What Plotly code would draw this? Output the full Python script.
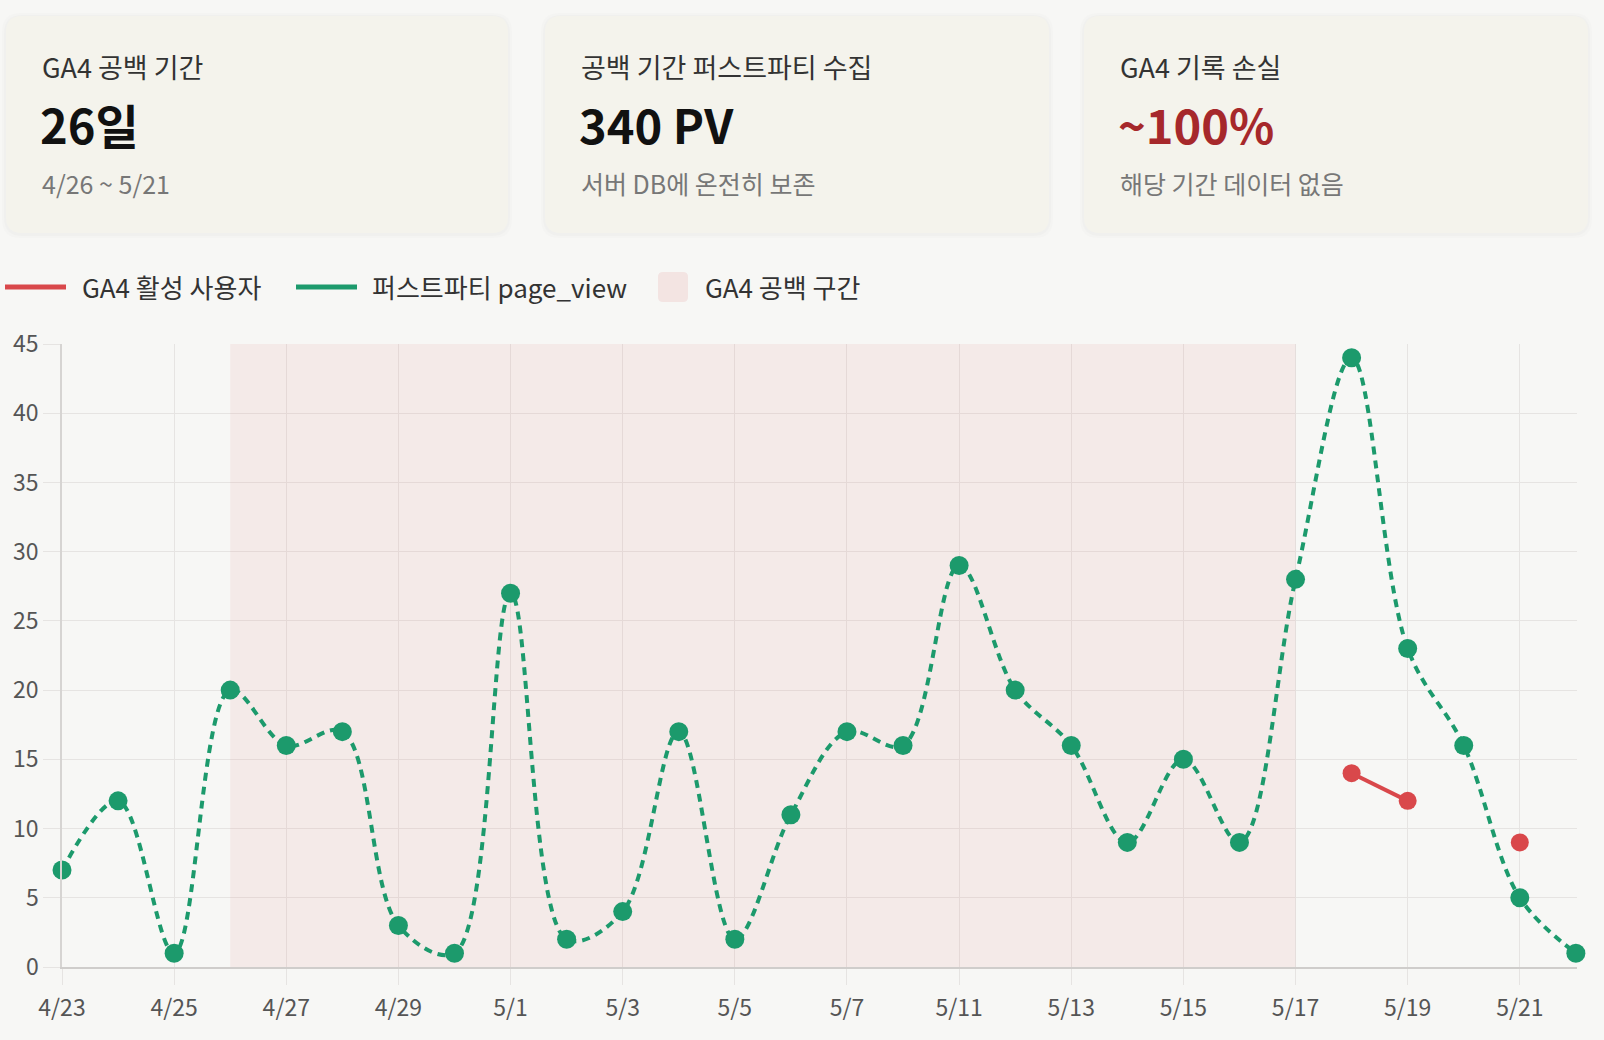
import plotly.graph_objects as go

# ---------------- data ----------------
dates = ["4/23", "4/24", "4/25", "4/26", "4/27", "4/28", "4/29", "4/30",
         "5/1", "5/2", "5/3", "5/4", "5/5", "5/6", "5/7", "5/8",
         "5/11", "5/12", "5/13", "5/14", "5/15", "5/16", "5/17", "5/18",
         "5/19", "5/20", "5/21", "5/22"]
first_party_pv = [7, 12, 1, 20, 16, 17, 3, 1,
                  27, 2, 4, 17, 2, 11, 17, 16,
                  29, 20, 16, 9, 15, 9, 28, 44,
                  23, 16, 5, 1]
ga4_active = [None] * 23 + [14, 12, None, 9, None]
gap_range = ["4/26", "5/17"]
gap_top = [45, 45]

cards = [
    ("GA4 공백 기간", "26일", "4/26 ~ 5/21", "#111111"),
    ("공백 기간 퍼스트파티 수집", "340 PV", "서버 DB에 온전히 보존", "#111111"),
    ("GA4 기록 손실", "~100%", "해당 기간 데이터 없음", "#a6282b"),
]
legend_labels = ["GA4 활성 사용자", "퍼스트파티 page_view", "GA4 공백 구간"]
y_ticks = [0, 5, 10, 15, 20, 25, 30, 35, 40, 45]

# ---------------- layout geometry ----------------
W, H = 1604, 1040
L, R, T, B = 62, 27, 344, 73
PW, PH = W - L - R, H - T - B


def px(x):
    return (x - L) / PW


def py(y):
    return (H - B - y) / PH


def rounded(x0, x1, y0, y1, r):
    return (f"M {px(x0 + r)} {py(y0)} L {px(x1 - r)} {py(y0)} "
            f"Q {px(x1)} {py(y0)} {px(x1)} {py(y0 + r)} L {px(x1)} {py(y1 - r)} "
            f"Q {px(x1)} {py(y1)} {px(x1 - r)} {py(y1)} L {px(x0 + r)} {py(y1)} "
            f"Q {px(x0)} {py(y1)} {px(x0)} {py(y1 - r)} L {px(x0)} {py(y0 + r)} "
            f"Q {px(x0)} {py(y0)} {px(x0 + r)} {py(y0)} Z")


FONT = "Noto Sans CJK KR, Noto Sans, sans-serif"
RED = "#d9484b"
GREEN = "#1c9a6c"
PINK = "rgba(214, 90, 90, 0.08)"

fig = go.Figure()

# GA4 gap shading
fig.add_trace(go.Scatter(
    x=gap_range, y=gap_top, mode="none", fill="tozeroy",
    fillcolor=PINK, name=legend_labels[2], hoverinfo="skip", showlegend=False))

# first-party page_view
fig.add_trace(go.Scatter(
    x=dates, y=first_party_pv, mode="lines+markers",
    line=dict(color=GREEN, width=4, dash="8px,6px", shape="spline", smoothing=1.0),
    marker=dict(color=GREEN, size=19),
    cliponaxis=False, showlegend=False, name=legend_labels[1]))

# GA4 active users
fig.add_trace(go.Scatter(
    x=dates, y=ga4_active, mode="lines+markers",
    line=dict(color=RED, width=4),
    marker=dict(color=RED, size=18),
    cliponaxis=False, showlegend=False, name=legend_labels[0]))

# ---------------- cards ----------------
card_x = [(6, 508), (545, 1049), (1084, 1588)]
card_y = (16, 233)
shapes = []
annotations = []
for (x0, x1), (title, value, sub, vcol) in zip(card_x, cards):
    y0, y1 = card_y
    for grow, col in [(4, "rgba(0,0,0,0.010)"), (2, "rgba(0,0,0,0.014)")]:
        shapes.append(dict(type="path", xref="paper", yref="paper",
                           path=rounded(x0 - grow, x1 + grow, y0 - grow + 1, y1 + grow + 1, 18),
                           fillcolor=col, line=dict(width=0), layer="below"))
    shapes.append(dict(type="path", xref="paper", yref="paper",
                       path=rounded(x0, x1, y0, y1, 16),
                       fillcolor="#f4f3ec", line=dict(width=0), layer="below"))
    tx = x0 + 34
    annotations.append(dict(xref="paper", yref="paper", x=px(tx), y=py(66),
                            xanchor="left", yanchor="middle", showarrow=False,
                            text=title, font=dict(family=FONT, size=27, color="#333333")))
    annotations.append(dict(xref="paper", yref="paper", x=px(tx - 2), y=py(124),
                            xanchor="left", yanchor="middle", showarrow=False,
                            text=f"<b>{value}</b>", font=dict(family=FONT, size=47, color=vcol)))
    annotations.append(dict(xref="paper", yref="paper", x=px(tx), y=py(183),
                            xanchor="left", yanchor="middle", showarrow=False,
                            text=sub, font=dict(family=FONT, size=25, color="#777777")))

# ---------------- legend (drawn) ----------------
LY = 287
leg_sym = [("line", 5, 66, RED), ("line", 296, 357, GREEN), ("box", 658, 688, "rgba(214, 90, 90, 0.12)")]
leg_text_x = [80, 370, 703]
for (kind, a, b, col), tx, lab in zip(leg_sym, leg_text_x, legend_labels):
    if kind == "line":
        shapes.append(dict(type="line", xref="paper", yref="paper",
                           x0=px(a), x1=px(b), y0=py(LY), y1=py(LY),
                           line=dict(color=col, width=5)))
    else:
        shapes.append(dict(type="path", xref="paper", yref="paper",
                           path=rounded(a, b, LY - 15, LY + 15, 5),
                           fillcolor=col, line=dict(width=0)))
    annotations.append(dict(xref="paper", yref="paper", x=px(tx), y=py(LY),
                            xanchor="left", yanchor="middle", showarrow=False,
                            text=lab, font=dict(family=FONT, size=26, color="#333333")))

fig.update_layout(
    width=W, height=H,
    margin=dict(l=L, r=R, t=T, b=B, pad=0, autoexpand=False),
    paper_bgcolor="#f7f7f5", plot_bgcolor="#f7f7f5",
    font=dict(family=FONT, size=23, color="#555555"),
    shapes=shapes, annotations=annotations,
    showlegend=False,
    hovermode=False,
)
fig.update_xaxes(
    type="category", categoryorder="array", categoryarray=dates,
    range=[0, 27.02], tickmode="linear", tick0=0, dtick=2,
    showgrid=True, gridcolor="#e6e4e2", gridwidth=1,
    ticks="outside", ticklen=16, tickcolor="#e6e4e2", tickwidth=1,
    ticklabelstandoff=3,
    showline=True, linecolor="#cfcdcb", linewidth=2,
    zeroline=False, fixedrange=True, automargin=False,
    tickfont=dict(family=FONT, size=23, color="#555555"),
)
fig.update_yaxes(
    range=[0, 45], tickvals=y_ticks,
    showgrid=True, gridcolor="#e6e4e2", gridwidth=1,
    ticks="outside", ticklen=17, tickcolor="#e6e4e2", tickwidth=1,
    showline=True, linecolor="#d6d4d2", linewidth=1.5,
    zeroline=False, fixedrange=True, automargin=False,
    tickfont=dict(family=FONT, size=23, color="#555555"),
)

fig.write_html("out.html", config={"displayModeBar": False})
with open("out.html", "r", encoding="utf-8") as f:
    html = f.read()
html = html.replace("<head>", "<head><style>html,body{margin:0;padding:0;overflow:hidden;background:#f7f7f5;}</style>", 1)
with open("out.html", "w", encoding="utf-8") as f:
    f.write(html)
